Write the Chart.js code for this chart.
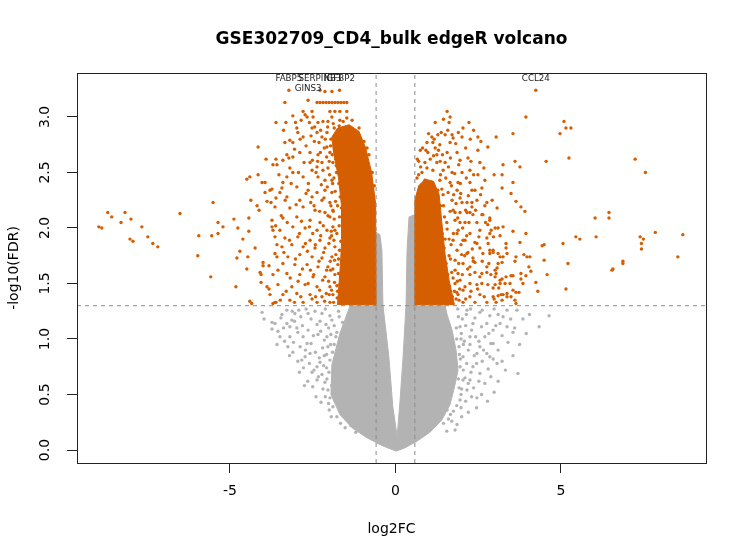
<!DOCTYPE html>
<html>
<head>
<meta charset="utf-8">
<script src="https://cdn.jsdelivr.net/npm/chart.js@4.4.0/dist/chart.umd.min.js"></script>
<style>
  body { margin: 0; background: #fff; }
  #wrap { width: 746px; height: 560px; }
</style>
</head>
<body>
<div id="wrap"><canvas id="volcano"></canvas></div>
<script>
const chartTitle = 'GSE302709_CD4_bulk edgeR volcano';
const xTicks = [-5, 0, 5];
const yTicks = [0, 0.5, 1, 1.5, 2, 2.5, 3];
const xRange = [-9.62, 9.38];
const yRange = [-0.117, 3.396];
const fcCut = 0.585;
const fdrCut = 1.3;

// labelled genes
const labelGenes = ['FABP5', 'SERPINB3', 'IGFBP2', 'GINS3', 'CCL24'];
const labelFC = [-3.22, -2.28, -1.69, -2.64, 4.24];
const labelFDR = [3.24, 3.24, 3.24, 3.15, 3.24];

// [log2FC, -log10 FDR]
const downGenes = [
  [-8.96,2.01],[-8.87,2.00],[-8.69,2.14],[-8.57,2.10],[-8.29,2.05],[-8.17,2.14],[-7.99,2.08],[-8.02,1.90],[-7.93,1.88],
  [-7.66,2.01],[-7.48,1.92],[-7.33,1.86],[-7.18,1.83],[-6.51,2.13],[-5.94,1.93],[-5.97,1.75],[-5.58,1.56],[-5.51,2.23],
  [-5.55,1.93],[-5.36,2.05],[-5.36,1.95],[-5.21,2.01],[-4.88,2.08],[-4.76,2.00],[-4.61,1.90],[-4.70,1.79],[-4.79,1.73],
  [-4.82,1.47],[-4.43,2.09],[-4.43,1.97],[-4.24,1.82],[-4.46,1.74],[-4.49,1.63],[-4.37,2.25],[-4.40,1.34],[-4.34,1.32],
  [-4.18,2.20],[-4.12,2.16],[-4.03,2.41],[-3.94,2.41],[-3.94,2.32],[-3.88,2.24],[-4.00,1.69],[-4.00,1.66],[-4.09,1.60],
  [-4.06,1.58],[-4.06,1.51],[-3.88,1.47],[-3.82,1.45],[-4.15,2.73],[-3.91,2.62],[-3.61,2.62],[-3.58,2.57],[-4.49,2.44],
  [-4.40,2.46],[-4.15,2.48],[-3.73,2.35],[-3.49,2.32],[-3.76,2.23],[-3.61,2.27],[-3.82,1.66],[-3.79,1.40],[-3.70,1.32],
  [-3.61,1.33],[-3.73,2.07],[-3.73,2.01],[-3.70,1.98],[-3.64,1.92],[-3.58,1.85],[-3.64,1.77],[-3.58,1.74],
  [-2.13,3.23],[-1.92,3.23],[-2.37,3.13],[-2.28,3.13],[-2.19,3.13],[-2.10,3.13],[-2.01,3.13],[-1.92,3.13],[-1.83,3.13],
  [-1.74,3.13],[-1.65,3.13],[-1.56,3.13],[-1.47,3.13],[-3.34,3.13],[-2.79,3.05],[-2.52,3.05],[-1.98,3.05],[-1.83,3.05],
  [-1.68,3.05],[-1.47,3.05],[-3.10,3.01],[-3.61,2.95],[-3.31,2.95],[-2.67,3.00],[-2.49,3.00],[-2.34,2.95],[-2.19,2.96],
  [-2.04,2.96],[-1.92,3.00],[-1.68,2.97],[-1.47,2.99],[-1.31,2.97],[-2.98,2.90],[-2.95,2.86],[-2.79,2.82],[-2.52,2.90],
  [-2.37,2.86],[-2.22,2.82],[-2.07,2.86],[-3.19,2.79],[-3.10,2.77],[-3.34,2.77],[-3.28,2.66],[-2.89,2.68],[-2.58,2.68],
  [-2.34,2.66],[-2.07,2.73],[-1.98,2.68],[-3.40,2.61],[-3.10,2.64],[-3.70,2.57],[-3.19,2.54],[-2.58,2.59],[-2.37,2.55],
  [-2.22,2.59],[-2.04,2.54],[-1.89,2.59],[-1.74,2.64],[-3.10,2.50],[-3.28,2.46],[-2.79,2.46],[-2.52,2.52],[-2.34,2.46],
  [-2.13,2.43],[-1.92,2.43],[-3.40,2.41],[-3.79,2.34],[-3.43,2.36],[-2.98,2.37],[-2.64,2.34],[-2.37,2.32],[-2.13,2.34],
  [-1.92,2.32],[-3.28,2.28],[-2.89,2.25],[-2.52,2.28],[-2.22,2.25],[-1.98,2.23],[-3.64,2.19],[-3.19,2.18],[-2.79,2.19],
  [-2.43,2.16],[-2.13,2.14],[-1.89,2.16],[-3.40,2.09],[-2.98,2.10],[-2.58,2.07],[-2.28,2.05],[-1.98,2.10],[-3.49,1.98],
  [-3.10,2.01],[-2.73,2.00],[-2.37,1.98],[-2.07,1.98],[-1.89,2.01],[-3.34,1.91],[-2.95,1.92],[-2.58,1.89],[-2.28,1.89],
  [-1.98,1.91],[-3.43,1.83],[-3.13,1.85],[-2.79,1.83],[-2.43,1.82],[-2.13,1.82],[-1.83,1.83],[-3.25,1.74],[-2.89,1.76],
  [-2.52,1.74],[-2.22,1.73],[-1.92,1.74],[-3.40,1.68],[-3.04,1.67],[-2.67,1.67],[-2.34,1.65],[-2.04,1.65],[-1.74,1.67],
  [-3.70,1.58],[-3.28,1.59],[-2.89,1.58],[-2.49,1.56],[-2.13,1.56],[-1.83,1.58],[-3.55,1.49],[-3.13,1.47],[-2.73,1.49],
  [-2.37,1.47],[-1.98,1.47],[-1.68,1.49],[-3.40,1.40],[-2.98,1.41],[-2.58,1.40],[-2.22,1.38],[-1.89,1.40],[-1.59,1.41],
  [-3.64,1.33],[-3.19,1.35],[-2.79,1.33],[-2.37,1.33],[-1.98,1.33],[-1.47,1.33],
  [-1.78,2.50],[-1.62,2.35],[-1.75,2.20],[-1.58,2.12],[-1.70,2.02],[-1.52,1.95],[-1.65,1.88],[-1.50,1.80],[-1.72,1.72],
  [-1.58,1.66],[-1.45,1.60],[-1.66,1.55],[-1.52,1.50],[-1.75,1.43],[-1.60,1.36],[-1.85,2.90],[-1.55,2.80],[-1.50,2.65],
  [-1.62,2.75],[-1.80,2.62],[-2.45,2.78],[-2.60,2.95],[-2.85,2.97],[-2.70,2.74],[-2.15,2.72],[-2.35,2.60],[-1.95,2.80],
  [-2.26,2.88],[-2.05,2.91],[-1.88,2.94],[-1.70,2.92],[-1.58,2.96],[-2.31,2.77],[-2.12,2.80],[-1.96,2.74],[-1.83,2.70],
  [-2.27,2.68],[-2.08,2.64],[-1.91,2.66],[-1.79,2.56],[-2.19,2.52],[-1.99,2.48],[-1.86,2.45],[-1.71,2.40],[-2.24,2.39],
  [-2.06,2.37],[-1.82,2.33],[-1.67,2.28],[-2.16,2.27],[-1.95,2.20],[-1.81,2.24],[-1.63,2.18],[-2.29,2.15],[-2.04,2.11],
  [-1.85,2.08],[-1.69,2.10],[-1.55,2.03],[-2.18,2.02],[-1.94,1.97],[-1.77,1.95],[-1.60,1.92],[-2.26,1.93],[-2.01,1.86],
  [-1.86,1.89],[-1.69,1.80],[-1.55,1.85],[-2.17,1.78],[-1.97,1.70],[-1.80,1.76],[-1.63,1.70],[-2.31,1.70],[-2.08,1.62],
  [-1.89,1.63],[-1.72,1.59],[-1.57,1.56],[-2.20,1.53],[-2.02,1.52],[-1.84,1.51],[-1.67,1.45],[-2.29,1.44],[-2.09,1.41],
  [-1.93,1.44],[-1.76,1.37],[-1.64,1.33],[-2.14,1.34],[-1.87,1.33],[-1.54,1.39],[-2.44,2.91],[-2.40,2.50],[-2.46,2.20],
  [-2.42,1.85],[-2.47,1.58],[-2.41,1.38],[-2.55,2.83],[-2.51,2.61],[-2.63,2.40],[-2.56,2.23],[-2.60,2.01],[-2.50,1.95],
  [-2.66,1.79],[-2.57,1.62],[-2.64,1.50],[-2.52,1.36],
  [-2.73,3.02],[-2.88,2.80],[-3.02,2.95],[-2.76,2.59],[-3.05,2.71],[-2.93,2.50],[-3.22,2.63],[-2.70,2.31],[-3.15,2.40],
  [-3.00,2.21],[-3.33,2.25],[-2.84,2.06],[-3.27,2.05],[-2.90,1.95],[-3.20,1.89],[-2.72,1.86],[-3.37,1.78],[-3.02,1.72],
  [-2.81,1.63],[-3.18,1.55],[-2.94,1.52],[-3.30,1.43],[-2.86,1.38],[-3.05,1.33],[-3.52,2.48],[-3.45,2.11],[-3.55,1.62],
  [-3.48,1.35],[-3.62,2.02],[-3.38,2.88],
  [-0.95,2.78],[-0.80,2.66],[-0.70,2.50],[-0.64,2.38],[-1.10,2.90],[-0.86,2.72],
  [-1.88,2.15],[-1.93,1.93],[-1.96,1.62],[-2.00,1.40],[-1.84,1.71],[-1.90,2.40],[-2.00,2.60],[-1.77,1.48],[-1.83,1.98]
];

const upGenes = [
  [3.94,3.00],[5.09,2.96],[5.15,2.90],[5.30,2.90],[4.97,2.85],[3.55,2.85],[3.04,2.82],[5.24,2.63],[4.55,2.60],[3.61,2.60],
  [3.76,2.55],[3.25,2.57],[2.98,2.48],[3.22,2.48],[3.55,2.41],[3.22,2.36],[3.49,2.31],[3.64,2.24],[3.79,2.19],[3.91,2.15],
  [3.07,2.18],[7.24,2.62],[7.55,2.50],[6.03,2.09],[6.45,2.14],[6.45,2.09],[5.45,1.92],[5.57,1.90],[6.06,1.92],[7.39,1.92],
  [7.49,1.90],[7.43,1.86],[7.43,1.81],[7.85,1.96],[8.68,1.94],[8.53,1.74],[5.06,1.86],[4.43,1.84],[4.49,1.85],[4.49,1.71],
  [5.21,1.68],[4.58,1.58],[5.15,1.45],[6.54,1.62],[6.57,1.63],[6.87,1.70],[6.87,1.68],[4.24,1.51],[4.30,1.43],[3.94,1.95],
  [3.76,1.87],[3.55,1.97],[3.25,2.01],[3.34,1.86],[3.34,1.82],[3.37,1.77],[3.25,1.74],[3.88,1.76],[3.97,1.74],[4.03,1.65],
  [4.09,1.61],[3.79,1.59],[3.79,1.54],[3.94,1.57],[3.64,1.74],[3.61,1.70],[3.55,1.57],[3.34,1.56],[3.31,1.50],[3.22,1.54],
  [3.55,1.44],[3.64,1.42],[3.73,1.42],[3.49,1.38],[3.37,1.41],[3.19,1.40],[3.10,1.39],[3.07,1.64],[3.04,1.59],[2.98,1.36],
  [3.04,1.33],[3.64,1.32],[3.16,1.74],[2.95,1.78],[3.10,1.77],[3.01,1.49],
  [2.70,2.20],[2.64,2.12],[2.31,2.19],[2.34,2.12],[2.85,2.09],[2.79,2.03],[2.89,1.98],[2.85,1.95],[3.16,1.93],[3.10,2.00],
  [3.22,1.69],[4.06,1.74],[3.49,1.57],[3.16,1.53],[2.82,1.68],[2.76,1.60],[3.01,1.62],[2.55,1.56],[2.85,1.77],[2.64,1.77],
  [2.95,1.80],[2.46,1.86],[2.55,1.82],[2.34,1.73],[2.25,1.65],[2.40,1.60],[2.61,1.50],[2.95,1.46],[3.37,1.38],[3.61,1.35],
  [3.22,1.35],[3.46,1.50],[3.85,1.50],[2.25,1.50],[2.04,1.44],[1.95,1.53],[1.80,1.62],[2.16,1.77],[2.04,1.89],[2.25,1.95],
  [1.95,2.05],[2.16,2.14],[2.01,2.23],[1.80,2.14],[2.31,2.23],
  [1.56,3.05],[1.65,3.00],[1.62,2.95],[2.04,2.90],[2.22,2.95],[1.10,2.82],[1.28,2.84],[1.50,2.84],[1.71,2.84],[1.74,2.81],
  [2.01,2.82],[2.49,2.82],[0.95,2.77],[1.13,2.77],[1.34,2.75],[1.65,2.77],[2.49,2.70],[2.79,2.73],[0.98,2.68],[1.25,2.66],
  [1.56,2.68],[1.86,2.68],[0.89,2.59],[1.25,2.59],[1.50,2.59],[1.95,2.61],[2.19,2.63],[2.55,2.59],[0.95,2.54],[1.13,2.52],
  [1.44,2.52],[1.71,2.50],[2.01,2.50],[2.25,2.52],[2.49,2.48],[0.89,2.43],[1.10,2.41],[1.34,2.43],[1.65,2.41],[1.89,2.41],
  [2.25,2.41],[2.70,2.43],[0.74,2.37],[1.04,2.36],[1.28,2.34],[1.59,2.32],[1.86,2.34],[2.31,2.34],[2.61,2.36],[1.71,2.25],
  [1.95,2.27],[2.16,2.23],[2.46,2.25],[2.76,2.23],[1.74,2.16],[1.95,2.14],[2.25,2.14],[2.61,2.12],[1.80,2.07],[2.10,2.05],
  [2.46,2.05],[2.85,2.07],[1.89,1.98],[2.55,1.98],[3.01,2.00],[1.74,1.89],[2.10,1.89],[2.40,1.87],[2.76,1.91],[1.86,1.80],
  [2.19,1.78],[2.85,1.80],[1.80,1.71],[2.04,1.68],[2.40,1.69],[2.76,1.65],[3.10,1.68],[1.89,1.59],[2.25,1.58],[2.61,1.59],
  [3.01,1.56],[1.80,1.50],[2.10,1.47],[2.46,1.49],[2.79,1.49],[3.16,1.50],[1.89,1.40],[2.25,1.38],[2.55,1.40],[2.95,1.38],
  [3.25,1.40],[2.04,1.33],[2.40,1.33],[2.76,1.33],
  [1.45,2.20],[1.55,2.05],[1.50,1.90],[1.62,1.75],[1.70,1.60],[1.58,1.45],[1.72,1.38],[1.40,2.35],[1.52,2.45],[1.35,2.60],
  [1.15,2.65],[0.80,2.50],[0.70,2.60],[0.75,2.70],[1.00,2.85],[1.20,2.95],[1.45,2.98],[1.30,2.70],[0.65,2.45],[1.65,2.15],
  [1.75,1.95],[1.68,1.85],
  [1.36,2.20],[1.48,2.10],[1.41,1.95],[1.56,1.99],[1.47,1.82],[1.62,1.90],[1.53,1.68],[1.66,1.72],[1.58,1.58],[1.74,1.55],
  [1.63,1.47],[1.78,1.43],[1.69,1.34],[1.83,1.36],[1.94,1.45],[2.02,1.58],[1.91,1.68],[2.09,1.75],[1.98,1.85],[2.15,1.93],
  [2.03,2.00],[1.88,2.09],[2.12,2.16],[1.97,2.31],[2.20,2.29],[1.83,2.22],[1.69,2.38],[1.79,2.49],[1.60,2.55],[1.91,2.57],
  [1.42,2.66],[1.66,2.63],[1.20,2.72],[1.05,2.62],[0.92,2.70],[0.82,2.72],[0.70,2.48],[0.76,2.55],[0.66,2.62],[1.17,2.80],
  [1.38,2.86],[1.58,2.88],[1.90,2.86],[1.82,2.76],[2.12,2.72],[2.28,2.60],[2.36,2.48],[2.14,2.45],[2.40,2.34],[2.22,2.05],
  [2.32,1.81],[2.18,1.63],[2.28,1.43],[2.12,1.36],[1.87,1.52],[2.35,1.70],[2.42,2.16],[2.52,1.92],[2.62,1.70],[2.48,1.45],
  [2.68,1.38],[2.57,2.30],[2.72,2.05],[2.80,1.86],[2.88,1.58],[2.67,2.54],[2.92,2.25],[2.96,1.92],[3.12,1.46],[2.36,2.88],
  [2.58,2.78],[2.26,2.80],[1.51,1.40],[1.46,1.56],[1.40,1.72],[1.38,1.88],[1.44,2.30],[1.36,2.48],
  [1.92,1.35],[2.00,1.76],[1.86,1.95],[1.96,2.40],[1.76,2.30],[1.85,1.42]
];

const nsGenes = [
  [-4.03,1.24],[-3.97,1.18],[-3.73,1.15],[-3.64,1.14],[-3.73,1.09],[-3.58,0.95],[-3.43,1.22],[-3.28,1.26],[-3.28,1.14],
  [-3.19,1.11],[-3.13,1.17],[-3.04,1.23],[-2.92,1.26],[-3.19,1.02],[-3.25,0.93],[-3.10,0.88],[-2.95,1.06],[-2.79,1.02],
  [-2.67,0.96],[-2.83,0.81],[-2.73,0.84],[-2.58,0.87],[-2.37,1.13],[-2.22,1.23],[-2.34,1.04],[-2.52,0.70],[-2.37,0.75],
  [-2.22,0.68],[-2.13,0.61],[-2.04,0.54],[-1.98,0.47],[-1.89,0.39],[-2.04,0.93],[-1.98,0.81],[-2.07,1.02],[-1.92,1.17],
  [-1.77,1.06],[-1.68,0.99],[-1.83,0.63],[-1.68,0.51],[-1.59,0.33],[-2.37,0.63],[-2.28,0.79],[-2.64,1.23],[-3.49,1.02],
  [2.55,1.24],[2.76,1.14],[2.95,1.08],[3.10,1.22],[3.16,1.14],[3.37,1.11],[3.55,1.06],[2.70,1.02],[2.55,0.93],[2.46,0.87],
  [2.76,0.87],[3.07,0.78],[2.34,0.75],[2.25,0.63],[2.16,0.54],[2.46,0.47],[1.86,0.23],[3.70,0.69],[2.95,0.96],[2.25,1.02],
  [1.95,1.11],[2.04,0.84],[2.55,0.69],[2.85,0.84],[3.37,1.26],[3.67,1.26],[1.74,0.57],[1.95,0.45],[1.56,0.36],[2.34,1.14],
  [2.16,1.26],[4.64,1.21],[4.34,1.11],
  [-1.75,0.85],[-1.80,0.72],[-1.70,1.20],[-1.60,1.15],[-1.85,0.95],[-1.55,0.62],[-1.45,0.45],[1.95,0.75],[2.05,0.95],
  [1.90,1.20],[2.10,0.65],[1.85,1.00],[2.20,0.90],[2.00,0.55],[1.75,0.35],[1.60,0.28],[-1.40,0.27],[-1.20,0.16],
  [-3.05,1.16],[-2.86,1.20],[-2.70,1.27],[-2.55,1.18],[-2.43,1.25],[-2.28,1.16],[-2.12,1.27],[-1.98,1.21],[-1.85,1.12],
  [-2.98,1.10],[-2.81,1.12],[-2.64,1.08],[-2.48,1.03],[-2.26,1.07],[-2.15,0.99],[-1.95,1.04],[-3.08,0.97],[-2.88,0.93],
  [-2.72,0.90],[-2.55,0.96],[-2.42,0.88],[-2.20,0.92],[-2.08,0.86],[-1.90,0.88],[-2.95,0.80],[-2.78,0.74],[-2.60,0.78],
  [-2.46,0.72],[-2.30,0.83],[-2.17,0.76],[-2.01,0.70],[-1.88,0.76],[-2.65,0.62],[-2.50,0.57],[-2.33,0.66],[-2.19,0.55],
  [-2.07,0.64],[-1.93,0.58],[-2.40,0.48],[-2.25,0.43],[-2.12,0.48],[-2.00,0.36],[-1.84,0.45],[-1.77,0.30],[-1.66,0.24],
  [-1.52,0.20],[-3.38,1.10],[-3.46,1.19],[-3.35,0.98],[-3.55,1.07],[-3.12,1.25],[-3.20,0.85],[-2.90,0.70],[-2.75,0.58],
  [-1.72,1.25],[-1.80,1.02],[-1.96,0.95],[-2.10,1.13],[-1.76,0.65],[-1.70,0.55],
  [1.88,1.27],[2.02,1.18],[2.14,1.22],[2.27,1.27],[2.40,1.19],[2.62,1.26],[2.85,1.21],[2.98,1.27],[3.25,1.20],[1.84,1.10],
  [1.99,1.05],[2.12,1.12],[2.30,1.08],[2.42,1.02],[2.60,1.11],[2.82,1.05],[3.03,1.12],[3.22,1.03],[1.92,0.93],[2.08,0.98],
  [2.25,0.95],[2.38,0.85],[2.52,0.98],[2.66,0.90],[2.88,0.96],[3.10,0.90],[1.96,0.82],[2.15,0.78],[2.28,0.70],[2.45,0.78],
  [2.62,0.80],[2.80,0.73],[2.95,0.82],[3.22,0.80],[1.90,0.64],[2.05,0.72],[2.20,0.60],[2.36,0.56],[2.52,0.62],[2.70,0.60],
  [2.88,0.66],[1.98,0.50],[2.12,0.44],[2.30,0.48],[2.45,0.38],[2.60,0.50],[1.85,0.40],[2.00,0.30],[2.20,0.34],[1.70,0.26],
  [1.80,0.18],[1.55,0.17],[3.40,0.97],[3.48,1.18],[3.60,1.10],[3.85,1.18],[3.95,1.05],[3.32,0.72],[3.55,0.85],[3.75,0.95],
  [3.10,0.62],[2.98,0.52],[2.78,0.44],[4.05,1.22],
  [-2.02,0.42],[-1.94,0.30],[-2.08,0.74],[-2.15,0.85],[-2.02,1.10],[-1.58,0.42],[-1.35,0.22],[1.98,0.38],[1.92,0.56],
  [2.04,0.63],[1.98,1.00],[1.93,0.86],[1.66,0.32],[1.45,0.24]
];

// outlines of the solid, overplotted cores
const nsCore = [
  [0.02,-0.01],[0.29,0.02],[0.65,0.08],[1.04,0.16],[1.40,0.27],[1.65,0.41],[1.80,0.59],[1.89,0.72],[1.83,0.90],[1.71,1.08],
  [1.56,1.22],[1.50,1.30],[0.585,1.30],[0.585,2.12],[0.41,2.10],[0.35,1.80],[0.32,1.31],[0.23,0.84],[0.14,0.45],[0.05,0.12],
  [-0.08,0.39],[-0.20,0.84],[-0.38,1.31],[-0.41,1.80],[-0.47,1.94],[-0.585,1.96],[-0.585,1.30],[-1.37,1.30],[-1.68,1.05],
  [-1.92,0.77],[-1.95,0.50],[-1.68,0.32],[-1.31,0.20],[-0.86,0.11],[-0.41,0.04],[0.02,-0.01]
];
const downCore = [
  [-0.585,1.31],[-0.60,2.22],[-0.72,2.50],[-0.90,2.72],[-1.10,2.87],[-1.40,2.93],[-1.75,2.90],[-1.92,2.82],[-1.88,2.70],
  [-1.72,2.45],[-1.63,2.20],[-1.62,1.90],[-1.68,1.60],[-1.75,1.31],[-0.585,1.31]
];
const upCore = [
  [0.585,1.31],[0.585,2.25],[0.70,2.38],[0.90,2.44],[1.15,2.42],[1.32,2.30],[1.40,2.05],[1.50,1.76],[1.62,1.53],[1.78,1.31],
  [0.585,1.31]
];

const orange = '#d55e00';
const grey = '#b3b3b3';
const dotR = 1.7;
const toPts = arr => arr.map(p => ({ x: p[0], y: p[1] }));

Chart.defaults.font.family = "'DejaVu Sans', sans-serif";
Chart.defaults.color = '#000';

const titlePlugin = {
  id: 'plotTitle',
  afterDraw(chart) {
    const { ctx, chartArea } = chart;
    ctx.save();
    ctx.font = "bold 17px 'DejaVu Sans', sans-serif";
    ctx.fillStyle = '#000';
    ctx.textAlign = 'center';
    ctx.textBaseline = 'middle';
    ctx.fillText(chartTitle, (chartArea.left + chartArea.right) / 2, 40);
    ctx.restore();
  }
};

const boxPlugin = {
  id: 'plotBox',
  afterDatasetsDraw(chart) {
    const { ctx, chartArea: a } = chart;
    ctx.save();
    ctx.strokeStyle = '#222';
    ctx.lineWidth = 1;
    ctx.strokeRect(Math.round(a.left) + 0.5, Math.round(a.top) + 0.5, Math.round(a.right - a.left), Math.round(a.bottom - a.top));
    ctx.restore();
  }
};

const labelPlugin = {
  id: 'geneLabels',
  afterDatasetsDraw(chart) {
    const { ctx } = chart;
    const xs = chart.scales.x, ys = chart.scales.y;
    ctx.save();
    ctx.font = "8.7px 'DejaVu Sans', sans-serif";
    ctx.fillStyle = '#222';
    ctx.textAlign = 'center';
    ctx.textBaseline = 'middle';
    labelGenes.forEach((g, i) => {
      ctx.fillText(g, xs.getPixelForValue(labelFC[i]), ys.getPixelForValue(labelFDR[i]) - 12);
    });
    ctx.restore();
  }
};

const dashed = (pts) => ({
  type: 'line', data: toPts(pts), borderColor: '#8a8a8a', borderWidth: 1, borderDash: [4, 4],
  pointRadius: 0, fill: false, order: 0
});

new Chart(document.getElementById('volcano'), {
  type: 'scatter',
  data: {
    datasets: [
      dashed([[xRange[0], fdrCut], [xRange[1], fdrCut]]),
      dashed([[-fcCut, yRange[0]], [-fcCut, yRange[1]]]),
      dashed([[fcCut, yRange[0]], [fcCut, yRange[1]]]),
      { label: 'labelled', data: labelFC.map((v, i) => ({ x: v, y: labelFDR[i] })),
        backgroundColor: orange, pointRadius: dotR, borderWidth: 0, order: 1 },
      { label: 'down', data: toPts(downGenes), backgroundColor: orange, pointRadius: dotR, borderWidth: 0, order: 2 },
      { label: 'up', data: toPts(upGenes), backgroundColor: orange, pointRadius: dotR, borderWidth: 0, order: 2 },
      { type: 'line', data: toPts(downCore), borderColor: orange, backgroundColor: orange, borderWidth: 1,
        pointRadius: 0, fill: 'shape', tension: 0, order: 3 },
      { type: 'line', data: toPts(upCore), borderColor: orange, backgroundColor: orange, borderWidth: 1,
        pointRadius: 0, fill: 'shape', tension: 0, order: 3 },
      { label: 'ns', data: toPts(nsGenes), backgroundColor: grey, pointRadius: dotR, borderWidth: 0, order: 4 },
      { type: 'line', data: toPts(nsCore), borderColor: grey, backgroundColor: grey, borderWidth: 1,
        pointRadius: 0, fill: 'shape', tension: 0, order: 5 }
    ]
  },
  options: {
    responsive: true,
    maintainAspectRatio: false,
    animation: false,
    events: [],
    layout: { padding: { top: 73, right: 40, left: 0, bottom: 0 } },
    plugins: { legend: { display: false }, tooltip: { enabled: false }, title: { display: false } },
    scales: {
      x: {
        type: 'linear', min: xRange[0], max: xRange[1],
        afterBuildTicks: s => { s.ticks = xTicks.map(v => ({ value: v })); },
        afterFit: s => { s.height = 97; },
        ticks: { font: { size: 14 }, padding: 10, maxRotation: 0, autoSkip: false, color: '#000' },
        grid: { display: true, drawOnChartArea: false, drawTicks: true, tickLength: 10, color: '#222' },
        border: { display: false },
        title: { display: true, text: 'log2FC', font: { size: 14 }, color: '#000', padding: { top: 0, bottom: 22 } }
      },
      y: {
        type: 'linear', min: yRange[0], max: yRange[1],
        afterBuildTicks: s => { s.ticks = yTicks.map(v => ({ value: v })); },
        afterFit: s => { s.width = 77; },
        ticks: { font: { size: 14 }, padding: 11, minRotation: 90, maxRotation: 90, crossAlign: 'center',
          autoSkip: false, color: '#000', callback: v => Number(v).toFixed(1) },
        grid: { display: true, drawOnChartArea: false, drawTicks: true, tickLength: 10, color: '#222' },
        border: { display: false },
        title: { display: true, text: '-log10(FDR)', font: { size: 14 }, color: '#000', padding: { top: 6, bottom: 0 } }
      }
    }
  },
  plugins: [titlePlugin, boxPlugin, labelPlugin]
});
</script>
</body>
</html>
